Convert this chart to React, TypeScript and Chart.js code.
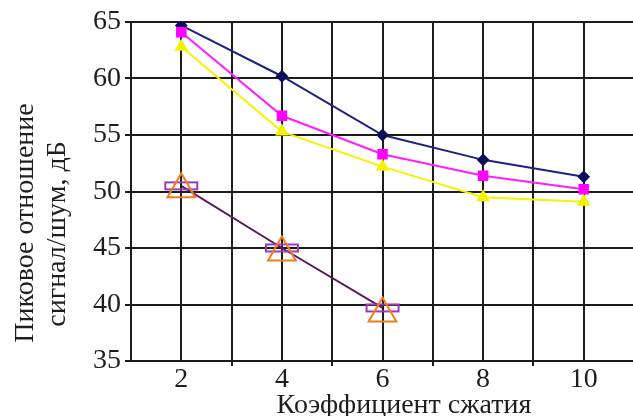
import React, { useEffect, useRef } from 'react';
import { Chart, registerables } from 'chart.js';

Chart.register(...registerables);

// ---- data ----
const ratios = [2, 4, 6, 8, 10];
const seriesNavy = [64.7, 60.2, 55.0, 52.8, 51.3];
const seriesMagenta = [64.1, 56.7, 53.3, 51.4, 50.2];
const seriesYellow = [62.8, 55.3, 52.2, 49.5, 49.1];
const ratiosShort = [2, 4, 6];
const seriesPurple = [50.5, 45.0, 39.7];
const seriesOrange = [50.2, 44.6, 39.2];

const xTickValues = [1, 2, 3, 4, 5, 6, 7, 8, 9, 10];
const xTickLabels = ['2', '4', '6', '8', '10'];
const yTickValues = [35, 40, 45, 50, 55, 60, 65];

const yTitle = ['Пиковое отношение', 'сигнал/шум, дБ'];
const xTitle = 'Коэффициент сжатия';

const SERIF = '"Liberation Serif", "DejaVu Serif", serif';

function makeRectMarker(): HTMLCanvasElement {
  const c = document.createElement('canvas');
  c.width = 36;
  c.height = 11;
  const ctx = c.getContext('2d')!;
  ctx.strokeStyle = '#9a3cb8';
  ctx.lineWidth = 2;
  ctx.strokeRect(2, 2, 32, 7);
  return c;
}

const titlesPlugin = {
  id: 'manualTitles',
  afterDraw(chart: any) {
    const ctx = chart.ctx as CanvasRenderingContext2D;
    ctx.save();
    ctx.fillStyle = '#1e1e1e';
    ctx.font = `28px ${SERIF}`;
    ctx.textAlign = 'center';
    ctx.textBaseline = 'alphabetic';
    // y title (two rotated lines)
    ctx.save();
    ctx.translate(33, 223);
    ctx.rotate(-Math.PI / 2);
    ctx.fillText(yTitle[0], 0, 0);
    ctx.restore();
    ctx.save();
    ctx.translate(65, 234);
    ctx.rotate(-Math.PI / 2);
    ctx.fillText(yTitle[1], 0, 0);
    ctx.restore();
    // x title
    ctx.fillText(xTitle, 404, 413);
    ctx.restore();
  },
};

export default function App() {
  const ref = useRef<HTMLCanvasElement | null>(null);

  useEffect(() => {
    if (!ref.current) return;
    const rectMarker = makeRectMarker();
    const pts = (xs: number[], ys: number[]) => xs.map((x, i) => ({ x, y: ys[i] }));
    const gridColor = '#1c1c1c';

    const chart = new Chart(ref.current, {
      type: 'line',
      data: {
        datasets: [
          {
            data: pts(ratiosShort, seriesOrange),
            showLine: false,
            pointStyle: 'triangle',
            pointRadius: 16,
            pointBorderColor: '#f07d1a',
            pointBackgroundColor: 'rgba(0,0,0,0)',
            pointBorderWidth: 2,
            borderColor: '#f07d1a',
          },
          {
            data: pts(ratiosShort, seriesPurple),
            borderColor: '#5c1a5c',
            borderWidth: 2,
            pointStyle: rectMarker as any,
            pointRadius: 10,
          },
          {
            data: pts(ratios, seriesYellow),
            borderColor: '#f5f200',
            backgroundColor: '#f5f200',
            borderWidth: 2,
            pointStyle: 'triangle',
            pointRadius: 6,
            pointBorderColor: '#f5f200',
            pointBackgroundColor: '#f5f200',
          },
          {
            data: pts(ratios, seriesMagenta),
            borderColor: '#ff1eff',
            borderWidth: 2,
            pointStyle: 'rect',
            pointRadius: 6,
            pointBorderColor: '#ff00ff',
            pointBackgroundColor: '#ff00ff',
          },
          {
            data: pts(ratios, seriesNavy),
            borderColor: '#202080',
            borderWidth: 2,
            pointStyle: 'rectRot',
            pointRadius: 5,
            pointBorderColor: '#0c0c60',
            pointBackgroundColor: '#0c0c60',
          },
        ],
      },
      options: {
        animation: false,
        responsive: false,
        events: [],
        layout: { autoPadding: false, padding: { top: 22, right: 0, left: 0, bottom: 0 } },
        plugins: {
          legend: { display: false },
          tooltip: { enabled: false },
        },
        scales: {
          x: {
            type: 'linear',
            min: 1,
            max: 10.98,
            afterBuildTicks: (scale: any) => {
              scale.ticks = xTickValues.map((v) => ({ value: v }));
            },
            afterFit: (scale: any) => {
              scale.height = 55;
              scale.paddingLeft = 0;
              scale.paddingRight = 0;
            },
            ticks: {
              autoSkip: false,
              maxRotation: 0,
              color: '#1e1e1e',
              font: { family: SERIF, size: 28 },
              padding: -3,
              callback: (v: any) => (xTickLabels.includes(String(v)) ? String(v) : ''),
            },
            grid: {
              color: gridColor,
              lineWidth: 2,
              tickLength: 5,
              tickColor: (c: any) =>
                c.tick && c.tick.value % 2 === 1 && c.tick.value !== 1 ? gridColor : 'rgba(0,0,0,0)',
            },
            border: { color: gridColor, width: 2 },
          },
          y: {
            min: 35,
            max: 65,
            afterBuildTicks: (scale: any) => {
              scale.ticks = yTickValues.map((v) => ({ value: v }));
            },
            afterFit: (scale: any) => {
              scale.width = 131;
              scale.paddingTop = 0;
              scale.paddingBottom = 0;
            },
            ticks: {
              color: '#1e1e1e',
              font: { family: SERIF, size: 28 },
              padding: 4,
            },
            grid: {
              color: gridColor,
              lineWidth: 2,
              tickLength: 6,
              tickColor: gridColor,
            },
            border: { color: gridColor, width: 2 },
          },
        },
      },
      plugins: [titlesPlugin],
    });
    return () => chart.destroy();
  }, []);

  return (
    <div style={{ position: 'fixed', left: 0, top: 0, width: 633, height: 416, background: '#fff' }}>
      <canvas ref={ref} width={633} height={416} style={{ width: 633, height: 416 }} />
    </div>
  );
}
